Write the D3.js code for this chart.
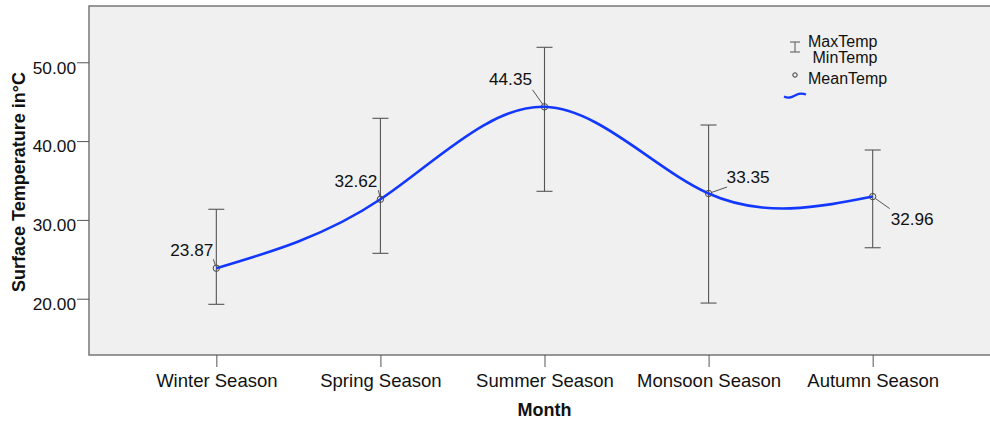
<!DOCTYPE html>
<html>
<head>
<meta charset="utf-8">
<script src="https://cdn.jsdelivr.net/npm/d3@7/dist/d3.min.js"></script>
<style>
  html, body { margin: 0; padding: 0; background: #ffffff; }
  svg { display: block; font-family: "Liberation Sans", Arial, sans-serif; }
</style>
</head>
<body>
<svg id="chart" width="990" height="421"></svg>
<script>
// ---- data ----
const seasons = ["Winter Season", "Spring Season", "Summer Season", "Monsoon Season", "Autumn Season"];
const meanTemp = [23.87, 32.62, 44.35, 33.35, 32.96];
const maxTemp  = [31.35, 42.89, 51.90, 42.04, 38.87];
const minTemp  = [19.29, 25.76, 33.63, 19.45, 26.47];
const yTicks   = [20, 30, 40, 50];
const yDomain  = [12.86, 57.14];

// ---- layout (styling, not data) ----
const plot = { left: 89, right: 1000, top: 6, bottom: 355 };
// label placement relative to each mean point: [text dx, text dy, anchor, leader dx, leader dy]
const labelLayout = [
  [-3, -12, "end", -3, -9],
  [-3, -12.5, "end", -2, -9],
  [-12.5, -22, "end", -12, -17],
  [18, -11, "start", 18.5, -6.5],
  [18, 28, "start", 17, 12]
];

const svg = d3.select("#chart");

const x = d3.scalePoint().domain(seasons).range([plot.left, plot.right]).padding(0.776);
const y = d3.scaleLinear().domain(yDomain).range([plot.bottom, plot.top]);

// plot background
svg.append("rect")
  .attr("x", plot.left).attr("y", plot.top)
  .attr("width", plot.right - plot.left).attr("height", plot.bottom - plot.top)
  .attr("fill", "#f0f0f0")
  .attr("stroke", "#7f7f7f").attr("stroke-width", 1.6);

// y axis
const yAxis = svg.append("g")
  .attr("transform", `translate(${plot.left},0)`)
  .call(d3.axisLeft(y).tickValues(yTicks).tickFormat(d3.format(".2f")).tickSize(12).tickPadding(1));
yAxis.select(".domain").remove();
yAxis.selectAll(".tick line").attr("stroke", "#555").attr("stroke-width", 1);
yAxis.selectAll(".tick text")
  .attr("fill", "#111").attr("font-size", "17.3px")
  .attr("font-family", "'Liberation Sans', Arial, sans-serif")
  .attr("dy", "0.62em");

// x axis
const xAxis = svg.append("g")
  .attr("transform", `translate(0,${plot.bottom})`)
  .call(d3.axisBottom(x).tickSize(12).tickPadding(7));
xAxis.select(".domain").remove();
xAxis.selectAll(".tick line").attr("stroke", "#555").attr("stroke-width", 1);
xAxis.selectAll(".tick text")
  .attr("fill", "#111").attr("font-size", "18.5px")
  .attr("font-family", "'Liberation Sans', Arial, sans-serif");

// axis titles
svg.append("text")
  .attr("x", 544.5).attr("y", 416)
  .attr("text-anchor", "middle")
  .attr("font-weight", "bold").attr("font-size", "18px").attr("fill", "#111")
  .text("Month");

svg.append("text")
  .attr("transform", "translate(25,182) rotate(-90)")
  .attr("text-anchor", "middle")
  .attr("font-weight", "bold").attr("font-size", "18px").attr("fill", "#111")
  .text("Surface Temperature in°C");

// error bars
const capHalf = 8;
const eb = svg.append("g").attr("stroke", "#555").attr("stroke-width", 1.1);
seasons.forEach((s, i) => {
  const cx = x(s);
  eb.append("line").attr("x1", cx).attr("x2", cx).attr("y1", y(maxTemp[i])).attr("y2", y(minTemp[i]));
  eb.append("line").attr("x1", cx - capHalf).attr("x2", cx + capHalf).attr("y1", y(maxTemp[i])).attr("y2", y(maxTemp[i]));
  eb.append("line").attr("x1", cx - capHalf).attr("x2", cx + capHalf).attr("y1", y(minTemp[i])).attr("y2", y(minTemp[i]));
});

// mean line (spline)
const line = d3.line()
  .x((d, i) => x(seasons[i]))
  .y(d => y(d))
  .curve(d3.curveNatural);
svg.append("path")
  .datum(meanTemp)
  .attr("d", line)
  .attr("fill", "none")
  .attr("stroke", "#1238ff")
  .attr("stroke-width", 2.6);

// mean markers
svg.append("g").selectAll("circle")
  .data(meanTemp).join("circle")
  .attr("cx", (d, i) => x(seasons[i]))
  .attr("cy", d => y(d))
  .attr("r", 3.2)
  .attr("fill", "none")
  .attr("stroke", "#444")
  .attr("stroke-width", 1);

// data labels with leader lines
const lab = svg.append("g");
meanTemp.forEach((v, i) => {
  const px = x(seasons[i]), py = y(v);
  const [tdx, tdy, anchor, ldx, ldy] = labelLayout[i];
  const len = Math.hypot(ldx, ldy);
  lab.append("line")
    .attr("x1", px + ldx).attr("y1", py + ldy)
    .attr("x2", px + ldx * 3.2 / len).attr("y2", py + ldy * 3.2 / len)
    .attr("stroke", "#555").attr("stroke-width", 1);
  lab.append("text")
    .attr("x", px + tdx).attr("y", py + tdy)
    .attr("text-anchor", anchor)
    .attr("font-size", "17.2px").attr("fill", "#111")
    .text(d3.format(".2f")(v));
});

// legend
const lg = svg.append("g");
lg.append("line").attr("x1", 795).attr("x2", 795).attr("y1", 42).attr("y2", 52).attr("stroke", "#555");
lg.append("line").attr("x1", 790).attr("x2", 800).attr("y1", 42).attr("y2", 42).attr("stroke", "#555");
lg.append("line").attr("x1", 790).attr("x2", 800).attr("y1", 52).attr("y2", 52).attr("stroke", "#555");
lg.append("text").attr("x", 808).attr("y", 46.5).attr("font-size", "16px").attr("fill", "#111").text("MaxTemp");
lg.append("text").attr("x", 812.5).attr("y", 62.5).attr("font-size", "16px").attr("fill", "#111").text("MinTemp");
lg.append("circle").attr("cx", 795).attr("cy", 75).attr("r", 2.2).attr("fill", "none").attr("stroke", "#333");
lg.append("text").attr("x", 808).attr("y", 83.5).attr("font-size", "16px").attr("fill", "#111").text("MeanTemp");
lg.append("path").attr("d", "M784,96.5 C789,99 792,97 796,95 C799,93.5 802,93 806,94.5")
  .attr("fill", "none").attr("stroke", "#1238ff").attr("stroke-width", 2.4);
</script>
</body>
</html>
